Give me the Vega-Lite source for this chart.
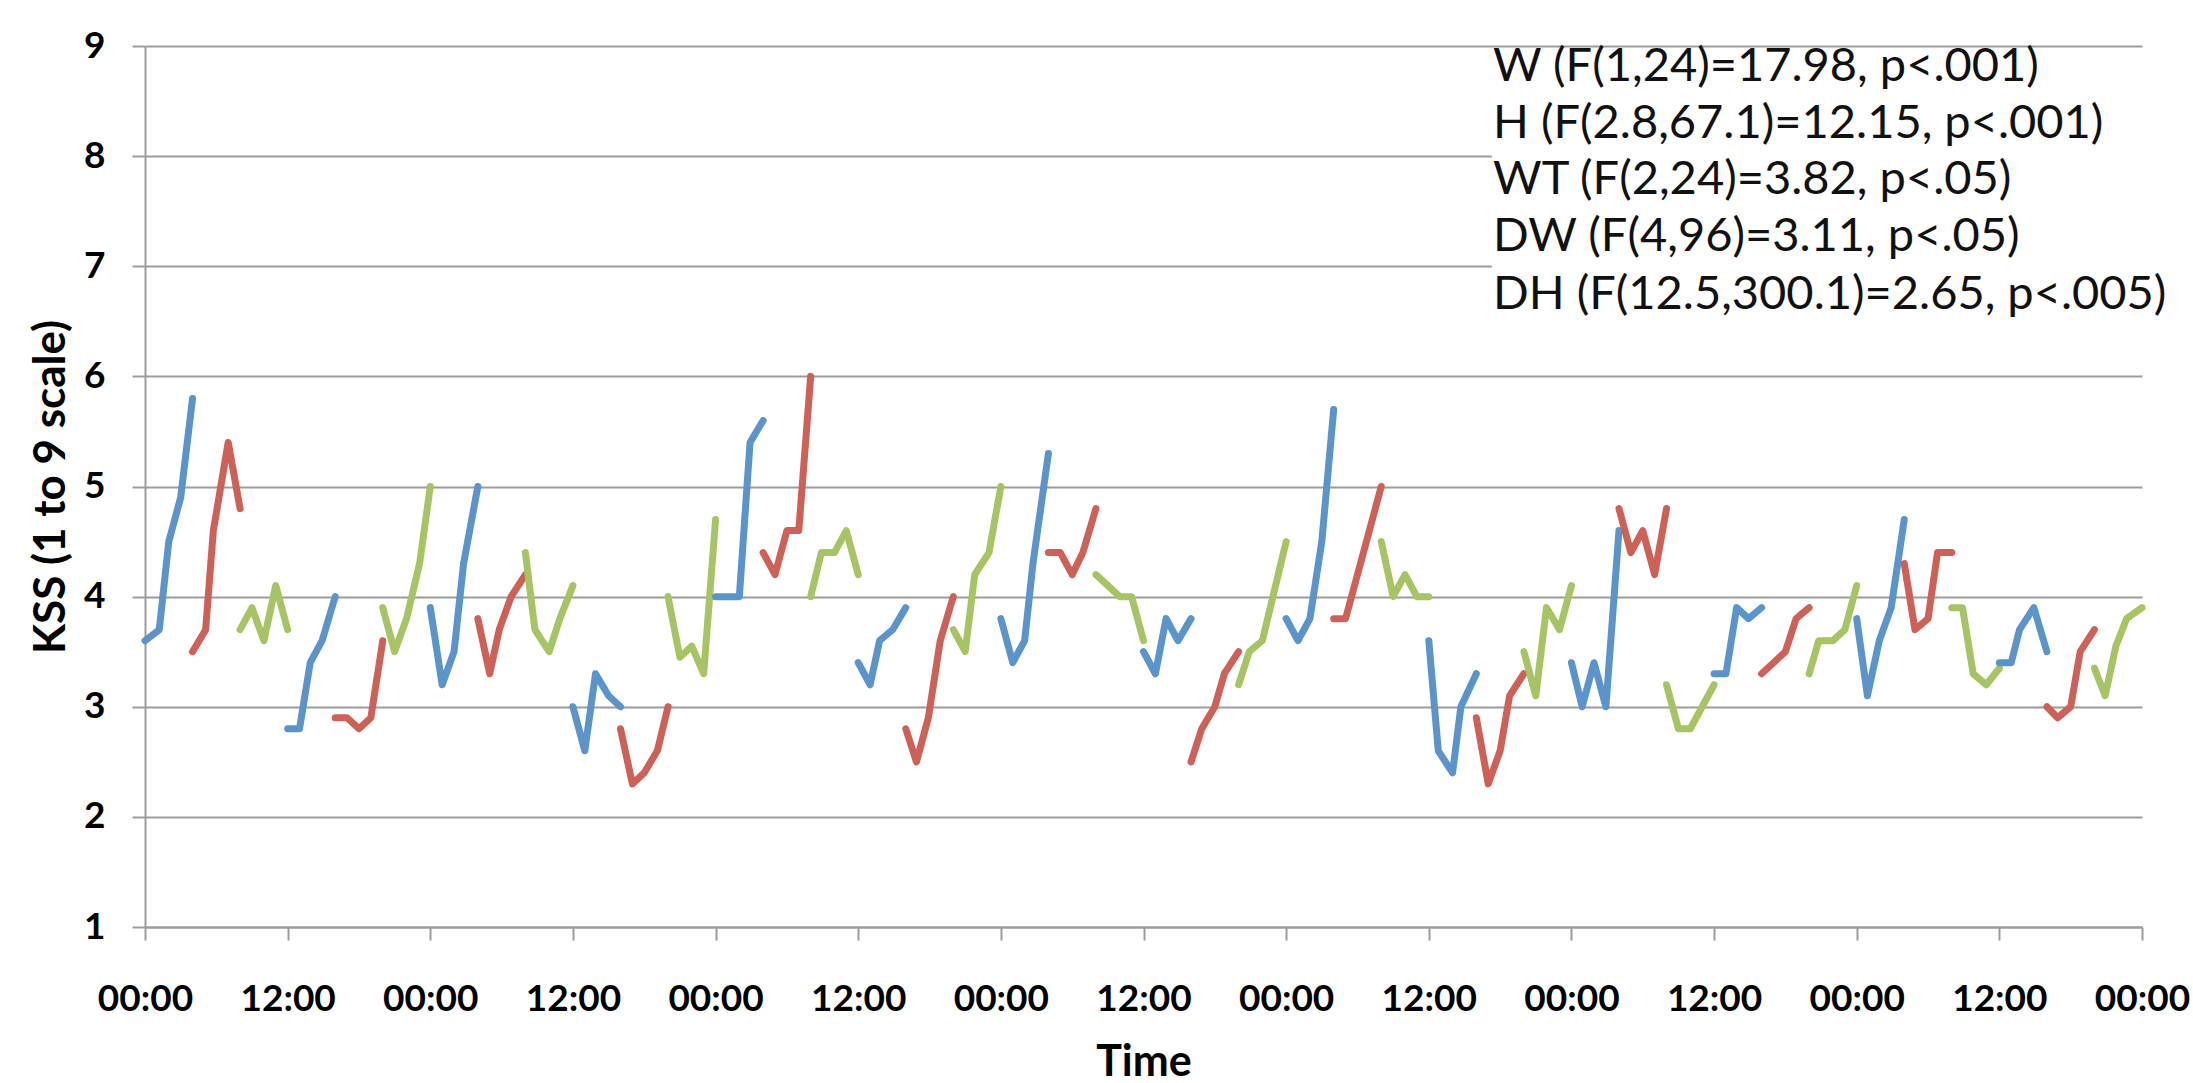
{
  "$schema": "https://vega.github.io/schema/vega-lite/v6.json",
  "autosize": "none",
  "width": 1997,
  "height": 881,
  "padding": {"left": 145, "top": 46, "right": 51, "bottom": 156},
  "background": "white",
  "config": {"view": {"stroke": null}, "font": "Lato", "line": {"strokeWidth": 7}},
  "datasets": {
    "kss": [
      {"seg":1,"series":"blue","hour":0,"kss":3.6},{"seg":1,"series":"blue","hour":1.2,"kss":3.7},{"seg":1,"series":"blue","hour":2,"kss":4.5},{"seg":1,"series":"blue","hour":3,"kss":4.9},{"seg":1,"series":"blue","hour":4,"kss":5.8},
      {"seg":2,"series":"red","hour":4,"kss":3.5},{"seg":2,"series":"red","hour":5.1,"kss":3.7},{"seg":2,"series":"red","hour":5.75,"kss":4.6},{"seg":2,"series":"red","hour":7,"kss":5.4},{"seg":2,"series":"red","hour":8,"kss":4.8},
      {"seg":3,"series":"green","hour":8,"kss":3.7},{"seg":3,"series":"green","hour":9,"kss":3.9},{"seg":3,"series":"green","hour":10,"kss":3.6},{"seg":3,"series":"green","hour":11,"kss":4.1},{"seg":3,"series":"green","hour":12,"kss":3.7},
      {"seg":4,"series":"blue","hour":12,"kss":2.8},{"seg":4,"series":"blue","hour":13,"kss":2.8},{"seg":4,"series":"blue","hour":13.9,"kss":3.4},{"seg":4,"series":"blue","hour":14.9,"kss":3.6},{"seg":4,"series":"blue","hour":16,"kss":4.0},
      {"seg":5,"series":"red","hour":16,"kss":2.9},{"seg":5,"series":"red","hour":17,"kss":2.9},{"seg":5,"series":"red","hour":18,"kss":2.8},{"seg":5,"series":"red","hour":19,"kss":2.9},{"seg":5,"series":"red","hour":20,"kss":3.6},
      {"seg":6,"series":"green","hour":20,"kss":3.9},{"seg":6,"series":"green","hour":21,"kss":3.5},{"seg":6,"series":"green","hour":22,"kss":3.8},{"seg":6,"series":"green","hour":23.1,"kss":4.3},{"seg":6,"series":"green","hour":24,"kss":5.0},
      {"seg":7,"series":"blue","hour":24,"kss":3.9},{"seg":7,"series":"blue","hour":25,"kss":3.2},{"seg":7,"series":"blue","hour":26,"kss":3.5},{"seg":7,"series":"blue","hour":26.8,"kss":4.3},{"seg":7,"series":"blue","hour":28,"kss":5.0},
      {"seg":8,"series":"red","hour":28,"kss":3.8},{"seg":8,"series":"red","hour":29,"kss":3.3},{"seg":8,"series":"red","hour":29.8,"kss":3.7},{"seg":8,"series":"red","hour":30.8,"kss":4.0},{"seg":8,"series":"red","hour":32,"kss":4.2},
      {"seg":9,"series":"green","hour":32,"kss":4.4},{"seg":9,"series":"green","hour":32.8,"kss":3.7},{"seg":9,"series":"green","hour":34,"kss":3.5},{"seg":9,"series":"green","hour":34.9,"kss":3.8},{"seg":9,"series":"green","hour":36,"kss":4.1},
      {"seg":10,"series":"blue","hour":36,"kss":3.0},{"seg":10,"series":"blue","hour":37,"kss":2.6},{"seg":10,"series":"blue","hour":37.9,"kss":3.3},{"seg":10,"series":"blue","hour":39,"kss":3.1},{"seg":10,"series":"blue","hour":40,"kss":3.0},
      {"seg":11,"series":"red","hour":40,"kss":2.8},{"seg":11,"series":"red","hour":41,"kss":2.3},{"seg":11,"series":"red","hour":42,"kss":2.4},{"seg":11,"series":"red","hour":43.1,"kss":2.6},{"seg":11,"series":"red","hour":44,"kss":3.0},
      {"seg":12,"series":"green","hour":44,"kss":4.0},{"seg":12,"series":"green","hour":45,"kss":3.45},{"seg":12,"series":"green","hour":46,"kss":3.55},{"seg":12,"series":"green","hour":47,"kss":3.3},{"seg":12,"series":"green","hour":48,"kss":4.7},
      {"seg":13,"series":"blue","hour":48,"kss":4.0},{"seg":13,"series":"blue","hour":49,"kss":4.0},{"seg":13,"series":"blue","hour":50,"kss":4.0},{"seg":13,"series":"blue","hour":50.9,"kss":5.4},{"seg":13,"series":"blue","hour":52,"kss":5.6},
      {"seg":14,"series":"red","hour":52,"kss":4.4},{"seg":14,"series":"red","hour":53,"kss":4.2},{"seg":14,"series":"red","hour":54,"kss":4.6},{"seg":14,"series":"red","hour":55,"kss":4.6},{"seg":14,"series":"red","hour":56,"kss":6.0},
      {"seg":15,"series":"green","hour":56,"kss":4.0},{"seg":15,"series":"green","hour":56.9,"kss":4.4},{"seg":15,"series":"green","hour":58,"kss":4.4},{"seg":15,"series":"green","hour":59,"kss":4.6},{"seg":15,"series":"green","hour":60,"kss":4.2},
      {"seg":16,"series":"blue","hour":60,"kss":3.4},{"seg":16,"series":"blue","hour":61,"kss":3.2},{"seg":16,"series":"blue","hour":61.8,"kss":3.6},{"seg":16,"series":"blue","hour":62.9,"kss":3.7},{"seg":16,"series":"blue","hour":64,"kss":3.9},
      {"seg":17,"series":"red","hour":64,"kss":2.8},{"seg":17,"series":"red","hour":64.9,"kss":2.5},{"seg":17,"series":"red","hour":65.9,"kss":2.9},{"seg":17,"series":"red","hour":66.9,"kss":3.6},{"seg":17,"series":"red","hour":68,"kss":4.0},
      {"seg":18,"series":"green","hour":68,"kss":3.7},{"seg":18,"series":"green","hour":69,"kss":3.5},{"seg":18,"series":"green","hour":69.8,"kss":4.2},{"seg":18,"series":"green","hour":71,"kss":4.4},{"seg":18,"series":"green","hour":72,"kss":5.0},
      {"seg":19,"series":"blue","hour":72,"kss":3.8},{"seg":19,"series":"blue","hour":73,"kss":3.4},{"seg":19,"series":"blue","hour":74,"kss":3.6},{"seg":19,"series":"blue","hour":74.7,"kss":4.3},{"seg":19,"series":"blue","hour":76,"kss":5.3},
      {"seg":20,"series":"red","hour":76,"kss":4.4},{"seg":20,"series":"red","hour":77,"kss":4.4},{"seg":20,"series":"red","hour":78,"kss":4.2},{"seg":20,"series":"red","hour":78.9,"kss":4.4},{"seg":20,"series":"red","hour":80,"kss":4.8},
      {"seg":21,"series":"green","hour":80,"kss":4.2},{"seg":21,"series":"green","hour":81,"kss":4.1},{"seg":21,"series":"green","hour":82,"kss":4.0},{"seg":21,"series":"green","hour":83,"kss":4.0},{"seg":21,"series":"green","hour":84,"kss":3.6},
      {"seg":22,"series":"blue","hour":84,"kss":3.5},{"seg":22,"series":"blue","hour":85,"kss":3.3},{"seg":22,"series":"blue","hour":85.9,"kss":3.8},{"seg":22,"series":"blue","hour":86.9,"kss":3.6},{"seg":22,"series":"blue","hour":88,"kss":3.8},
      {"seg":23,"series":"red","hour":88,"kss":2.5},{"seg":23,"series":"red","hour":88.9,"kss":2.8},{"seg":23,"series":"red","hour":90,"kss":3.0},{"seg":23,"series":"red","hour":90.8,"kss":3.3},{"seg":23,"series":"red","hour":92,"kss":3.5},
      {"seg":24,"series":"green","hour":92,"kss":3.2},{"seg":24,"series":"green","hour":92.9,"kss":3.5},{"seg":24,"series":"green","hour":94,"kss":3.6},{"seg":24,"series":"green","hour":95,"kss":4.05},{"seg":24,"series":"green","hour":96,"kss":4.5},
      {"seg":25,"series":"blue","hour":96,"kss":3.8},{"seg":25,"series":"blue","hour":97,"kss":3.6},{"seg":25,"series":"blue","hour":98,"kss":3.8},{"seg":25,"series":"blue","hour":99,"kss":4.5},{"seg":25,"series":"blue","hour":100,"kss":5.7},
      {"seg":26,"series":"red","hour":100,"kss":3.8},{"seg":26,"series":"red","hour":101,"kss":3.8},{"seg":26,"series":"red","hour":102,"kss":4.2},{"seg":26,"series":"red","hour":103,"kss":4.6},{"seg":26,"series":"red","hour":104,"kss":5.0},
      {"seg":27,"series":"green","hour":104,"kss":4.5},{"seg":27,"series":"green","hour":105,"kss":4.0},{"seg":27,"series":"green","hour":106,"kss":4.2},{"seg":27,"series":"green","hour":107,"kss":4.0},{"seg":27,"series":"green","hour":108,"kss":4.0},
      {"seg":28,"series":"blue","hour":108,"kss":3.6},{"seg":28,"series":"blue","hour":108.8,"kss":2.6},{"seg":28,"series":"blue","hour":110,"kss":2.4},{"seg":28,"series":"blue","hour":110.7,"kss":3.0},{"seg":28,"series":"blue","hour":112,"kss":3.3},
      {"seg":29,"series":"red","hour":112,"kss":2.9},{"seg":29,"series":"red","hour":113,"kss":2.3},{"seg":29,"series":"red","hour":114,"kss":2.6},{"seg":29,"series":"red","hour":114.8,"kss":3.1},{"seg":29,"series":"red","hour":116,"kss":3.3},
      {"seg":30,"series":"green","hour":116,"kss":3.5},{"seg":30,"series":"green","hour":117,"kss":3.1},{"seg":30,"series":"green","hour":117.9,"kss":3.9},{"seg":30,"series":"green","hour":119,"kss":3.7},{"seg":30,"series":"green","hour":120,"kss":4.1},
      {"seg":31,"series":"blue","hour":120,"kss":3.4},{"seg":31,"series":"blue","hour":120.9,"kss":3.0},{"seg":31,"series":"blue","hour":121.9,"kss":3.4},{"seg":31,"series":"blue","hour":122.9,"kss":3.0},{"seg":31,"series":"blue","hour":124,"kss":4.6},
      {"seg":32,"series":"red","hour":124,"kss":4.8},{"seg":32,"series":"red","hour":125,"kss":4.4},{"seg":32,"series":"red","hour":126,"kss":4.6},{"seg":32,"series":"red","hour":127,"kss":4.2},{"seg":32,"series":"red","hour":128,"kss":4.8},
      {"seg":33,"series":"green","hour":128,"kss":3.2},{"seg":33,"series":"green","hour":129,"kss":2.8},{"seg":33,"series":"green","hour":130,"kss":2.8},{"seg":33,"series":"green","hour":131,"kss":3.0},{"seg":33,"series":"green","hour":132,"kss":3.2},
      {"seg":34,"series":"blue","hour":132,"kss":3.3},{"seg":34,"series":"blue","hour":133,"kss":3.3},{"seg":34,"series":"blue","hour":133.9,"kss":3.9},{"seg":34,"series":"blue","hour":134.9,"kss":3.8},{"seg":34,"series":"blue","hour":136,"kss":3.9},
      {"seg":35,"series":"red","hour":136,"kss":3.3},{"seg":35,"series":"red","hour":137,"kss":3.4},{"seg":35,"series":"red","hour":138,"kss":3.5},{"seg":35,"series":"red","hour":138.9,"kss":3.8},{"seg":35,"series":"red","hour":140,"kss":3.9},
      {"seg":36,"series":"green","hour":140,"kss":3.3},{"seg":36,"series":"green","hour":140.8,"kss":3.6},{"seg":36,"series":"green","hour":142,"kss":3.6},{"seg":36,"series":"green","hour":143,"kss":3.7},{"seg":36,"series":"green","hour":144,"kss":4.1},
      {"seg":37,"series":"blue","hour":144,"kss":3.8},{"seg":37,"series":"blue","hour":144.9,"kss":3.1},{"seg":37,"series":"blue","hour":145.9,"kss":3.6},{"seg":37,"series":"blue","hour":146.9,"kss":3.9},{"seg":37,"series":"blue","hour":148,"kss":4.7},
      {"seg":38,"series":"red","hour":148,"kss":4.3},{"seg":38,"series":"red","hour":148.9,"kss":3.7},{"seg":38,"series":"red","hour":150,"kss":3.8},{"seg":38,"series":"red","hour":150.8,"kss":4.4},{"seg":38,"series":"red","hour":152,"kss":4.4},
      {"seg":39,"series":"green","hour":152,"kss":3.9},{"seg":39,"series":"green","hour":152.9,"kss":3.9},{"seg":39,"series":"green","hour":153.8,"kss":3.3},{"seg":39,"series":"green","hour":154.9,"kss":3.2},{"seg":39,"series":"green","hour":156,"kss":3.35},
      {"seg":40,"series":"blue","hour":156,"kss":3.4},{"seg":40,"series":"blue","hour":157,"kss":3.4},{"seg":40,"series":"blue","hour":157.7,"kss":3.7},{"seg":40,"series":"blue","hour":158.9,"kss":3.9},{"seg":40,"series":"blue","hour":160,"kss":3.5},
      {"seg":41,"series":"red","hour":160,"kss":3.0},{"seg":41,"series":"red","hour":160.9,"kss":2.9},{"seg":41,"series":"red","hour":162,"kss":3.0},{"seg":41,"series":"red","hour":162.8,"kss":3.5},{"seg":41,"series":"red","hour":164,"kss":3.7},
      {"seg":42,"series":"green","hour":164,"kss":3.35},{"seg":42,"series":"green","hour":164.9,"kss":3.1},{"seg":42,"series":"green","hour":165.8,"kss":3.55},{"seg":42,"series":"green","hour":166.7,"kss":3.8},{"seg":42,"series":"green","hour":168,"kss":3.9}
    ],
    "box": [{"hour": 113.3, "hour2": 172, "kss": 6.2, "kss2": 8.97}],
    "notes": [
      {"hour": 113.4, "kss": 8.81, "note": "W (F(1,24)=17.98, p<.001)"},
      {"hour": 113.4, "kss": 8.29, "note": "H (F(2.8,67.1)=12.15, p<.001)"},
      {"hour": 113.4, "kss": 7.78, "note": "WT (F(2,24)=3.82, p<.05)"},
      {"hour": 113.4, "kss": 7.27, "note": "DW (F(4,96)=3.11, p<.05)"},
      {"hour": 113.4, "kss": 6.74, "note": "DH (F(12.5,300.1)=2.65, p<.005)"}
    ]
  },
  "encoding": {
    "x": {
      "field": "hour", "type": "quantitative",
      "scale": {"domain": [0, 168], "nice": false, "zero": false},
      "axis": {
        "values": [0,12,24,36,48,60,72,84,96,108,120,132,144,156,168],
        "labelExpr": "datum.value % 24 === 0 ? '00:00' : '12:00'",
        "grid": false,
        "domainColor": "#9C9C9C", "domainWidth": 2,
        "tickColor": "#9C9C9C", "tickWidth": 2, "tickSize": 13,
        "labelFont": "Lato", "labelFontSize": 37, "labelFontWeight": "bold", "labelColor": "#000000",
        "labelPadding": 41, "labelFlush": false, "labelOverlap": false,
        "title": "Time", "titleFont": "Lato", "titleFontSize": 43, "titleFontWeight": "bold", "titleColor": "#000000",
        "titlePadding": 24
      }
    },
    "y": {
      "field": "kss", "type": "quantitative",
      "scale": {"domain": [1, 9], "nice": false, "zero": false},
      "axis": {
        "values": [1,2,3,4,5,6,7,8,9],
        "grid": true, "gridColor": "#9C9C9C", "gridWidth": 2,
        "domainColor": "#9C9C9C", "domainWidth": 2,
        "tickColor": "#9C9C9C", "tickWidth": 2, "tickSize": 13,
        "labelFont": "Lato", "labelFontSize": 37, "labelFontWeight": "bold", "labelColor": "#000000",
        "labelPadding": 27,
        "title": "KSS (1 to 9 scale)", "titleFont": "Lato", "titleFontSize": 44, "titleFontWeight": "bold", "titleColor": "#000000",
        "titlePadding": 10
      }
    }
  },
  "layer": [
    {
      "data": {"name": "box"},
      "mark": {"type": "rect", "fill": "white", "stroke": null},
      "encoding": {"x2": {"field": "hour2"}, "y2": {"field": "kss2"}}
    },
    {
      "data": {"name": "kss"},
      "mark": {"type": "line", "strokeWidth": 7, "strokeCap": "round", "strokeJoin": "round"},
      "encoding": {
        "detail": {"field": "seg", "type": "nominal"},
        "strokeWidth": {"value": 7},
        "color": {
          "field": "series", "type": "nominal",
          "scale": {"domain": ["blue", "red", "green"], "range": ["#5B93CB", "#CD6157", "#A7C465"]},
          "legend": null
        }
      }
    },
    {
      "data": {"name": "notes"},
      "mark": {"type": "text", "align": "left", "baseline": "middle", "font": "Lato", "fontSize": 47, "color": "#111111"},
      "encoding": {"text": {"field": "note"}}
    }
  ]
}
